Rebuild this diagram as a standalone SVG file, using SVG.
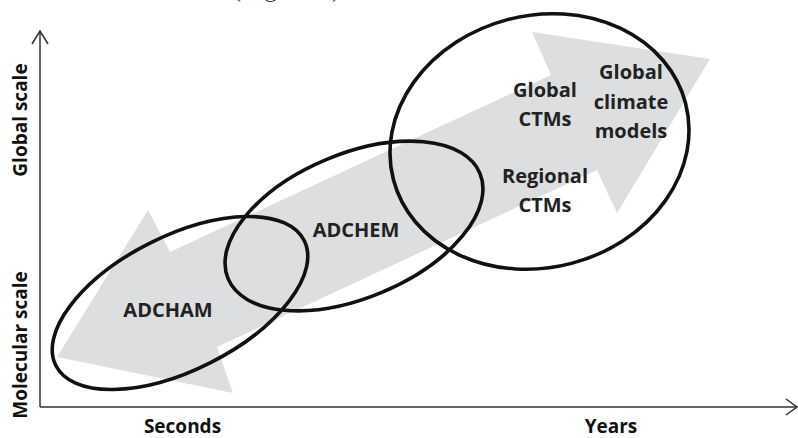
<svg xmlns="http://www.w3.org/2000/svg" width="798" height="438" viewBox="0 0 798 438">
<style>
.lbl{font-family:"Open Sans","Liberation Sans",sans-serif;font-weight:bold;font-size:20px;fill:#222;text-anchor:middle}
.ax{font-family:"Open Sans","Liberation Sans",sans-serif;font-weight:bold;font-size:19px;fill:#111;text-anchor:middle}
.ell{fill:none;stroke:#111;stroke-width:3.6}
.axis{fill:none;stroke:#333;stroke-width:1.5}
</style>
<rect width="798" height="438" fill="#fff"/>
<text x="233" y="-3" font-family="Liberation Serif,serif" font-size="24" fill="#333" textLength="107" lengthAdjust="spacing">(Figure 1)</text>
<g id="scale-arrow">
<polygon fill="#dddee0" points="57,357 148,210 170,252 551,75 532,32 710,59 617,213 597,170 217,347 233,393"/>
</g>
<g id="connectors">
<g id="y-axis">
<line class="axis" x1="40" y1="31" x2="40" y2="407"/>
<polyline class="axis" points="32,44 40,31 48,44"/>
</g>
<g id="x-axis">
<line class="axis" x1="40" y1="407" x2="797" y2="407"/>
<polyline class="axis" points="786,399 797,407 786,415"/>
</g>
</g>
<g id="adcham">
<ellipse class="ell" cx="180" cy="303" rx="139" ry="67" transform="rotate(-26.7 180 303)"/>
<text class="lbl" x="168" y="317">ADCHAM</text>
</g>
<g id="adchem">
<ellipse class="ell" cx="354" cy="226" rx="136.5" ry="72" transform="rotate(-22.7 354 226)"/>
<text class="lbl" x="356" y="237">ADCHEM</text>
</g>
<g id="global">
<ellipse class="ell" cx="539.5" cy="141.5" rx="151" ry="126" transform="rotate(-14.7 539.5 141.5)"/>
<text class="lbl" x="545" y="97">Global</text>
<text class="lbl" x="545" y="126">CTMs</text>
<text class="lbl" x="631" y="79">Global</text>
<text class="lbl" x="631" y="109">climate</text>
<text class="lbl" x="631" y="138">models</text>
<text class="lbl" x="545" y="183">Regional</text>
<text class="lbl" x="545" y="212">CTMs</text>
</g>
<g id="axis-labels">
<text class="ax" font-size="20" transform="translate(27 120) rotate(-90)">Global scale</text>
<text class="ax" font-size="21" transform="translate(27 345) rotate(-90)">Molecular scale</text>
<text class="ax" x="182.5" y="433">Seconds</text>
<text class="ax" x="611" y="433">Years</text>
</g>
</svg>
